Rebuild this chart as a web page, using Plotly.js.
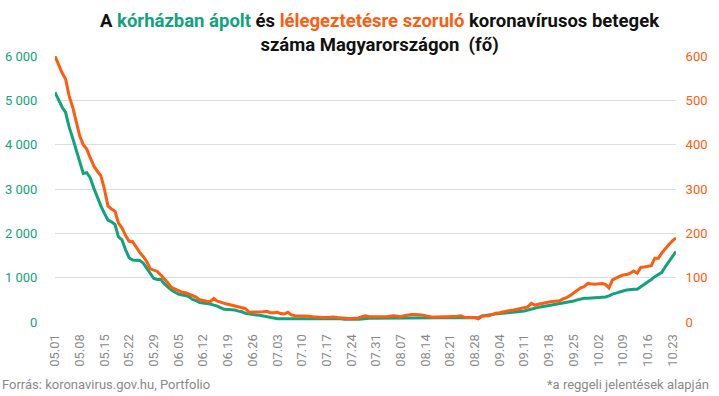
<!DOCTYPE html>
<html>
<head>
<meta charset="utf-8">
<script src="https://cdn.plot.ly/plotly-3.0.1.min.js"></script>
<style>html,body{margin:0;padding:0;background:#fff;}#chart{width:719px;height:396px;}</style>
</head>
<body>
<div id="chart"></div>
<script>
// Date categories: 2021.05.01 – 2021.10.24, daily
const startDate = Date.UTC(2021, 4, 1);
const dayCount = 177;
const dates = [];
for (let i = 0; i < dayCount; i++) {
  const d = new Date(startDate + i * 86400000);
  dates.push(String(d.getUTCMonth() + 1).padStart(2, '0') + '.' + String(d.getUTCDate()).padStart(2, '0'));
}
const tickDates = dates.filter((_, i) => i % 7 === 0);

// Kórházban ápolt (left axis)
const hospitalized = [
  5180, 5000, 4850, 4730, 4400, 4150, 3900,
  3600, 3350, 3370, 3250, 3020, 2800, 2620,
  2450, 2300, 2260, 2200, 1920, 1850, 1630,
  1450, 1400, 1400, 1390, 1330, 1210, 1080,
  980, 960, 960, 860, 780, 720, 670,
  630, 610, 600, 570, 510, 480, 440,
  430, 420, 406, 380, 360, 320, 286,
  280, 272, 270, 245, 230, 195, 178,
  170, 160, 150, 135, 120, 105, 85,
  75, 76, 74, 73, 75, 74, 72,
  74, 75, 73, 74, 75, 76, 78,
  80, 80, 79, 78, 72, 62, 60,
  58, 60, 62, 70, 80, 82, 82,
  83, 82, 84, 86, 88, 90, 92,
  96, 100, 104, 106, 107, 106, 104,
  100, 98, 97, 96, 97, 97, 97,
  96, 97, 97, 96, 96, 97, 97,
  96, 98, 135, 140, 160, 172, 180,
  190, 200, 210, 218, 225, 235, 242,
  250, 270, 295, 308, 330, 346, 360,
  372, 380, 395, 420, 435, 445, 460,
  475, 500, 520, 535, 535, 535, 538,
  550, 558, 565, 590, 630, 650, 680,
  700, 720, 737, 737, 740, 795, 840,
  890, 960, 1022, 1070, 1120, 1250, 1370,
  1480, 1590
];

// Lélegeztetésre szoruló (right axis)
const ventilated = [
  600, 580, 562, 548, 510, 485, 450,
  420, 400, 390, 370, 352, 340, 330,
  300, 262, 255, 250, 223, 212, 195,
  182, 181, 168, 157, 148, 136, 120,
  117, 114, 106, 98, 88, 78, 75,
  71, 67, 66, 63, 60, 56, 50,
  48, 47, 46, 53, 47, 44, 42,
  40, 38, 35, 33, 31, 30, 22,
  22, 23, 22, 23, 24, 21, 21,
  22, 19, 18, 22, 16, 14, 14,
  14, 14, 13, 12, 11, 10, 10,
  10, 11, 11, 10, 9, 8, 8,
  8, 8, 9, 12, 14, 12, 12,
  12, 12, 11, 12, 13, 14, 13,
  12, 14, 16, 17, 17, 17, 16,
  14, 12, 11, 11, 12, 12, 12,
  12, 13, 13, 14, 11, 10, 10,
  10, 7, 13, 14, 14, 17, 20,
  21, 23, 24, 26, 27, 29, 31,
  33, 34, 42, 38, 40, 42, 43,
  45, 46, 47, 48, 52, 55, 60,
  66, 72, 77, 80, 87, 86, 85,
  86, 87, 85, 77, 95, 100, 103,
  106, 107, 110, 115, 110, 123, 124,
  125, 127, 144, 144, 156, 166, 175,
  183, 190
];

const GREEN = '#12a37c';
const ORANGE = '#ff5c0f';
const GRID = '#d9e1de';
const GRAY = '#8a8a8a';

const traces = [
  {x: dates, y: hospitalized, type: 'scatter', mode: 'lines', name: 'kórházban ápolt',
   line: {color: GREEN, width: 3}, yaxis: 'y', hoverinfo: 'skip'},
  {x: dates, y: ventilated, type: 'scatter', mode: 'lines', name: 'lélegeztetésre szoruló',
   line: {color: ORANGE, width: 3}, yaxis: 'y2', hoverinfo: 'skip'}
];

const layout = {
  width: 719, height: 396,
  margin: {l: 55, r: 43, t: 56, b: 74},
  paper_bgcolor: '#fff', plot_bgcolor: '#fff',
  separators: ', ',
  showlegend: false,
  font: {family: 'Roboto, sans-serif', size: 13, color: GRAY},
  xaxis: {
    type: 'category',
    range: [0, dayCount - 1],
    tickmode: 'array', tickvals: tickDates, ticktext: tickDates,
    tickangle: -90,
    tickfont: {size: 13, color: GRAY},
    showgrid: false, zeroline: false, showline: false,
    ticks: 'outside', ticklen: 6, tickcolor: 'rgba(0,0,0,0)', fixedrange: true
  },
  yaxis: {
    range: [0, 6000], dtick: 1000, tick0: 0,
    tickformat: ',d',
    tickfont: {size: 13, color: GREEN},
    gridcolor: GRID, gridwidth: 1,
    zeroline: false, showline: false,
    ticks: 'outside', ticklen: 14, tickcolor: 'rgba(0,0,0,0)'
  },
  yaxis2: {
    overlaying: 'y', side: 'right',
    range: [0, 600], dtick: 100, tick0: 0,
    tickfont: {size: 13, color: ORANGE},
    showgrid: false, zeroline: false, showline: false,
    ticks: 'outside', ticklen: 6, tickcolor: 'rgba(0,0,0,0)'
  },
  annotations: [
    {text: '<b>A <span style="color:' + GREEN + '">kórházban ápolt</span> és <span style="color:' + ORANGE + '">lélegeztetésre szoruló</span> koronavírusos betegek<br>száma Magyarországon  (fő)</b>',
     xref: 'paper', yref: 'paper', x: 0.524, y: (322 - 33) / 266,
     xanchor: 'center', yanchor: 'middle', showarrow: false, align: 'center',
     font: {family: 'Roboto, sans-serif', size: 18.5, color: '#111'}},
    {text: 'Forrás: koronavirus.gov.hu, Portfolio', xref: 'paper', yref: 'paper',
     x: -55 / 621, y: -0.235, xanchor: 'left', yanchor: 'middle', showarrow: false,
     font: {size: 13, color: GRAY}},
    {text: '*a reggeli jelentések alapján', xref: 'paper', yref: 'paper',
     x: (711 - 55) / 621, y: -0.235, xanchor: 'right', yanchor: 'middle', showarrow: false,
     font: {size: 13, color: GRAY}}
  ]
};

Plotly.newPlot('chart', traces, layout, {displayModeBar: false, staticPlot: true});
</script>
</body>
</html>
